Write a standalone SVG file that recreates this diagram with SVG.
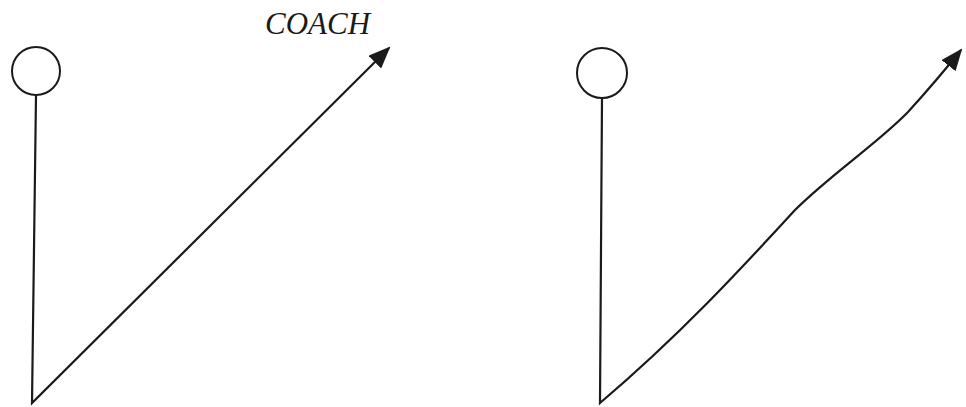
<svg xmlns="http://www.w3.org/2000/svg" width="966" height="407" viewBox="0 0 966 407">
<style>
.node{fill:none;stroke:#1a1a1a;stroke-width:2}
.conn{fill:none;stroke:#1a1a1a;stroke-width:2.2}
.lbl{font-family:"Liberation Serif",serif;font-style:italic;font-size:31px;fill:#1a1a1a}
</style>
<defs>
<marker id="ah" markerUnits="userSpaceOnUse" viewBox="0 0 22 18" refX="20" refY="9" markerWidth="22" markerHeight="18" orient="auto">
<path d="M0,0 L22,9 L0,18 Z" fill="#1a1a1a"/>
</marker>
</defs>
<rect width="966" height="407" fill="#fff"/>
<g id="player-left">
<circle class="node" cx="36" cy="71" r="24"/>
</g>
<g id="player-right">
<circle class="node" cx="602" cy="73" r="25"/>
</g>
<g id="label-coach">
<text class="lbl" x="265" y="34">COACH</text>
</g>
<g id="connectors">
<path class="conn" d="M36,95 L32,403 L389,48" marker-end="url(#ah)"/>
<path class="conn" d="M602,98 L600,403 C680,335 740,270 795,210 C830,175 878,143 908,112 C928,90 945,70 961,50" marker-end="url(#ah)"/>
</g>
</svg>
